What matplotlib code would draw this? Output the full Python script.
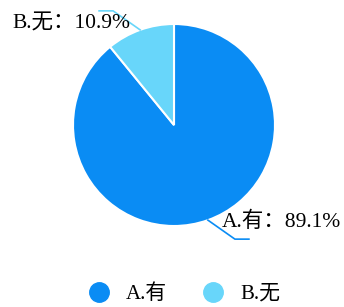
import numpy as np
import matplotlib
matplotlib.use("Agg")
import matplotlib.pyplot as plt
from matplotlib.lines import Line2D

plt.rcParams['font.family'] = ['Liberation Serif', 'Noto Sans CJK SC']

# data
labels = ['A.有', 'B.无']
shares = [89.1, 10.9]
colors = ['#0A8CF4', '#68D6FA']

fig = plt.figure(figsize=(3.44, 3.07), dpi=100)
ax = fig.add_axes([0, 0, 1, 1])

cx, cy, r = 174, 182, 101
wedges, _ = ax.pie(shares, colors=colors, startangle=90, counterclock=False,
                   center=(cx, cy), radius=r, frame=True,
                   wedgeprops=dict(edgecolor='white', linewidth=1.5))
ax.set_xlim(0, 344)
ax.set_ylim(0, 307)
ax.set_aspect('equal')
ax.axis('off')

# leader lines + labels
for w, lab, val, col in zip(wedges, labels, shares, colors):
    mid = np.deg2rad((w.theta1 + w.theta2) / 2)
    x0, y0 = cx + r * np.cos(mid), cy + r * np.sin(mid)
    dx = 1 if np.cos(mid) > 0 else -1
    dy = 1 if np.sin(mid) > 0 else -1
    x1, y1 = x0 + dx * 27, y0 + dy * 19
    x2 = x1 + dx * 14
    ax.plot([x0, x1, x2], [y0, y1, y1], color=col, lw=1.2, clip_on=False)
    txt = f'{lab}：{val}%'
    if dx > 0:
        ax.text(222, y0 - 2, txt, fontsize=15.5, ha='left', va='center')
    else:
        ax.text(12, y0 + 6, txt, fontsize=15.5, ha='left', va='center')

handles = [Line2D([], [], marker='o', ls='', markersize=14, color=c) for c in colors]
ax.legend(handles, labels, loc='center', bbox_to_anchor=(0.52, 0.042), ncol=2,
          frameon=False, fontsize=15, handletextpad=0.3, columnspacing=1.2,
          borderaxespad=0)

fig.savefig('out.png', dpi=100)
